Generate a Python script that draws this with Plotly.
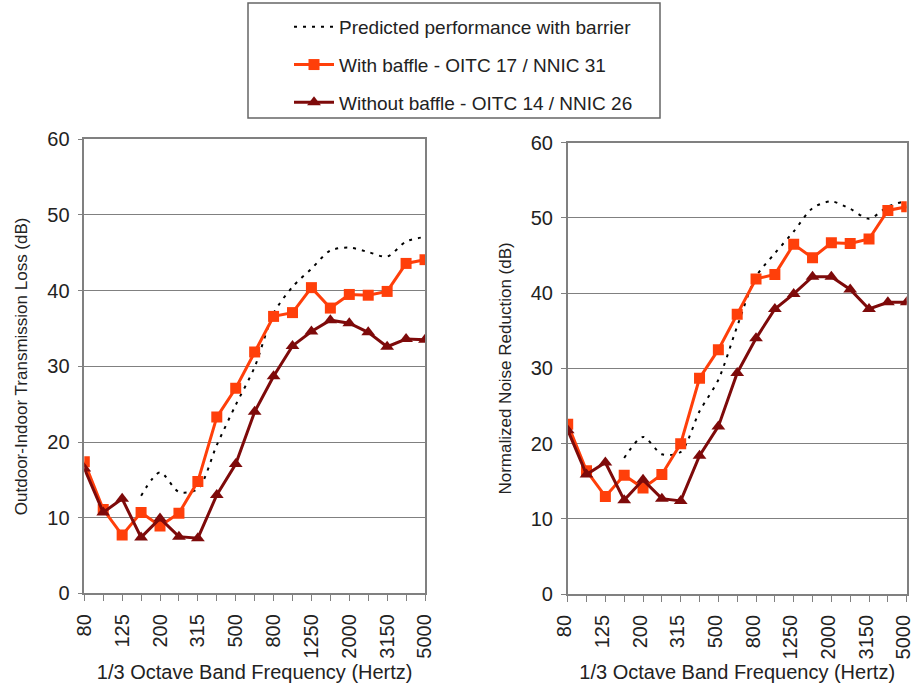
import plotly.graph_objects as go

freqs = ["80", "100", "125", "160", "200", "250", "315", "400", "500", "630",
         "800", "1000", "1250", "1600", "2000", "2500", "3150", "4000", "5000"]
tick_labels = ["80", "", "125", "", "200", "", "315", "", "500", "", "800", "",
               "1250", "", "2000", "", "3150", "", "5000"]

# Left: Outdoor-Indoor Transmission Loss (dB)
oitl_pred = [None, None, None, 12.9, 16.0, 13.4, 13.8, 19.6, 24.9, 29.9,
             37.0, 40.5, 42.9, 45.3, 45.7, 45.1, 44.5, 46.5, 47.1]
oitl_with = [17.4, 11.1, 7.7, 10.7, 8.9, 10.6, 14.8, 23.3, 27.1, 31.9,
             36.6, 37.1, 40.4, 37.7, 39.5, 39.4, 39.9, 43.6, 44.1]
oitl_without = [16.5, 10.7, 12.5, 7.4, 9.9, 7.5, 7.3, 13.0, 17.1, 24.0,
                28.7, 32.7, 34.6, 36.1, 35.7, 34.5, 32.6, 33.6, 33.5]

# Right: Normalized Noise Reduction (dB)
nnr_pred = [None, None, None, 18.1, 20.9, 18.6, 18.9, 24.3, 28.5, 35.6,
            42.2, 45.3, 48.2, 51.3, 52.2, 51.2, 49.9, 51.5, 52.3]
nnr_with = [22.6, 16.4, 13.0, 15.8, 14.1, 15.9, 20.0, 28.7, 32.5, 37.2,
            41.9, 42.5, 46.5, 44.7, 46.7, 46.6, 47.2, 51.0, 51.5]
nnr_without = [21.8, 15.9, 17.5, 12.5, 15.2, 12.7, 12.4, 18.4, 22.3, 29.4,
               34.0, 37.9, 39.9, 42.2, 42.2, 40.5, 37.9, 38.8, 38.8]

names = ["Predicted performance with barrier",
         "With baffle - OITC 17 / NNIC 31",
         "Without baffle - OITC 14 / NNIC 26"]

ORANGE = "#FF3F0A"
MAROON = "#7E0A0A"
FONT = "Liberation Sans, Arial, sans-serif"

fig = go.Figure()

def add_panel(pred, withb, without, xa, ya, show):
    fig.add_trace(go.Scatter(x=freqs, y=pred, mode="lines", name=names[0],
                             line=dict(color="black", width=2, dash="3px,6px", shape="spline", smoothing=0.8),
                             xaxis=xa, yaxis=ya, showlegend=show, legendgroup="a",
                             connectgaps=False))
    fig.add_trace(go.Scatter(x=freqs, y=withb, mode="lines+markers", name=names[1],
                             line=dict(color=ORANGE, width=3),
                             marker=dict(symbol="square", size=11, color=ORANGE),
                             xaxis=xa, yaxis=ya, showlegend=show, legendgroup="b"))
    fig.add_trace(go.Scatter(x=freqs, y=without, mode="lines+markers", name=names[2],
                             line=dict(color=MAROON, width=3),
                             marker=dict(symbol="triangle-up", size=12, color=MAROON),
                             xaxis=xa, yaxis=ya, showlegend=show, legendgroup="c"))

add_panel(oitl_pred, oitl_with, oitl_without, "x", "y", True)
add_panel(nnr_pred, nnr_with, nnr_without, "x2", "y2", False)

W, H = 915, 686
def xd(a, b):
    return [a / W, b / W]
def yd(top, bottom):
    return [(H - bottom) / H, (H - top) / H]

xcommon = dict(type="category", categoryorder="array", categoryarray=freqs,
               range=[0, 18], tickmode="array", tickvals=freqs, ticktext=tick_labels,
               tickangle=-90, ticks="outside", ticklen=6, tickcolor="#808080",
               showline=True, linecolor="#808080", linewidth=1.5, mirror=True,
               showgrid=False, zeroline=False, automargin=False,
               ticklabelstandoff=5,
               tickfont=dict(family=FONT, size=20, color="#222"),
               title=dict(text="1/3 Octave Band Frequency (Hertz)",
                          font=dict(family=FONT, size=20, color="#222"), standoff=7))
ycommon = dict(range=[0, 60], dtick=10, ticks="outside", ticklen=5, tickcolor="#808080",
               showline=True, linecolor="#808080", linewidth=1.5, mirror=True,
               showgrid=True, gridcolor="#808080", gridwidth=1.2, zeroline=False,
               automargin=False, ticklabelstandoff=4,
               tickfont=dict(family=FONT, size=20, color="#222"))

fig.update_layout(
    width=W, height=H, margin=dict(l=0, r=0, t=0, b=0, autoexpand=False),
    paper_bgcolor="white", plot_bgcolor="white",
    xaxis=dict(domain=xd(84.3, 425), anchor="y", **xcommon),
    xaxis2=dict(domain=xd(567.7, 906.7), anchor="y2", ticklabelshift=-3, **xcommon),
    yaxis=dict(domain=yd(139.3, 593.4), anchor="x",
               title=dict(text="Outdoor-Indoor Transmission Loss (dB)",
                          font=dict(family=FONT, size=17, color="#222"), standoff=15),
               **ycommon),
    yaxis2=dict(domain=yd(142.7, 594.2), anchor="x2",
                title=dict(text="Normalized Noise Reduction (dB)",
                           font=dict(family=FONT, size=17, color="#222"), standoff=15),
                **ycommon),
    legend=dict(x=289 / W, y=1 - 8 / H, xanchor="left", yanchor="top",
                bgcolor="rgba(0,0,0,0)", borderwidth=0,
                font=dict(family=FONT, size=19, color="#222"),
                traceorder="grouped", tracegroupgap=10, itemwidth=40),
    shapes=[dict(type="rect", xref="paper", yref="paper",
                 x0=248 / W, x1=660 / W, y0=1 - 118 / H, y1=1 - 3 / H,
                 line=dict(color="#666", width=1.5), fillcolor="rgba(0,0,0,0)")],
)

fig.write_html("out.html")
